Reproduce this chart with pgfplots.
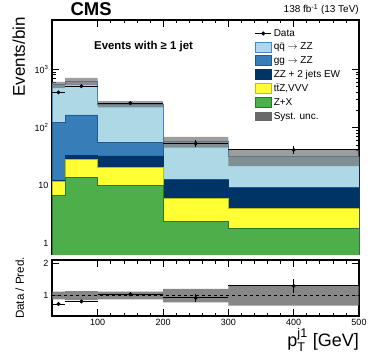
\documentclass[border=0pt]{standalone}
\usepackage{fontspec}
\setmainfont{Liberation Sans}
\usepackage{amsmath}
\usepackage{pgfplots}
\pgfplotsset{compat=1.18}

\definecolor{qqzz}{RGB}{173,216,230}
\definecolor{qqzzline}{RGB}{74,134,196}
\definecolor{ggzz}{RGB}{55,126,184}
\definecolor{ggzzline}{RGB}{30,90,150}
\definecolor{ewzz}{RGB}{0,51,102}
\definecolor{ttz}{RGB}{255,255,51}
\definecolor{ttzline}{RGB}{190,190,20}
\definecolor{zx}{RGB}{77,175,74}
\definecolor{zxline}{RGB}{40,120,40}
\definecolor{unc}{RGB}{105,105,105}

\pgfplotsset{
  rootstyle/.style={
    scale only axis, width=307pt, xmin=30, xmax=500,
    tick align=inside,
    axis line style={line width=1.1pt},
    every tick/.style={black, line width=0.7pt},
    major tick length=7pt, minor tick length=3.5pt,
    xtick={100,200,300,400,500}, minor x tick num=4,
    tick label style={font=\fontsize{9}{10}\selectfont},
    /pgf/number format/assume math mode=true,
  },
  stackarea/.style={line width=0.6pt, line join=miter},
  boxlegend/.style={legend image code/.code={\draw[##1] (0pt,-5pt) rectangle (16pt,5pt);}},
}

\begin{document}
\begin{tikzpicture}
% main panel: cumulative stack tops, drawn from largest to smallest
\begin{axis}[rootstyle, name=main, height=234pt,
  ymode=log, ymin=0.67, ymax=7000,
  ytick={1,10,100,1000}, yticklabels={1,10,10\textsuperscript{2},10\textsuperscript{3}},
  xticklabel=\empty,
  legend style={at={(0.65,0.978)}, anchor=north west, draw=none, fill=none,
    font=\fontsize{10}{12}\selectfont, row sep=1.2pt},
  legend cell align=left]
% qq -> ZZ (total)
\addplot[stackarea, fill=qqzz, draw=qqzzline, forget plot] coordinates {
 (30,0.3) (30,540) (50,540) (50,620) (100,620) (100,252) (200,252)
 (200,57) (300,57) (300,31.5) (500,31.5) (500,0.3)} -- cycle;
% gg -> ZZ
\addplot[stackarea, fill=ggzz, draw=ggzzline, forget plot] coordinates {
 (30,0.3) (30,123) (50,123) (50,164) (100,164) (100,55) (200,55)
 (200,12.9) (300,12.9) (300,9.3) (500,9.3) (500,0.3)} -- cycle;
% ZZ + 2 jets EW
\addplot[stackarea, fill=ewzz, draw=ewzz, forget plot] coordinates {
 (30,0.3) (30,12.3) (50,12.3) (50,33) (100,33) (100,32.5) (200,32.5)
 (200,12.6) (300,12.6) (300,9.1) (500,9.1) (500,0.3)} -- cycle;
% ttZ, VVV
\addplot[stackarea, fill=ttz, draw=ttzline, forget plot] coordinates {
 (30,0.3) (30,11.7) (50,11.7) (50,28.5) (100,28.5) (100,20.8) (200,20.8)
 (200,6.1) (300,6.1) (300,4.1) (500,4.1) (500,0.3)} -- cycle;
% Z+X
\addplot[stackarea, fill=zx, draw=zxline, forget plot] coordinates {
 (30,0.3) (30,6.8) (50,6.8) (50,14) (100,14) (100,10) (200,10)
 (200,2.4) (300,2.4) (300,1.83) (500,1.83) (500,0.3)} -- cycle;
% syst. band
\addplot[fill=unc, fill opacity=0.65, draw=none, forget plot] coordinates {
 (30,605) (50,605) (50,707) (100,707) (100,282) (200,282) (200,69) (300,69)
 (300,41.3) (500,41.3) (500,21.7) (300,21.7) (300,45) (200,45) (200,222)
 (100,222) (100,533) (50,533) (50,475) (30,475)} -- cycle;
% data
\addplot[black, only marks, mark=*, mark size=1.8pt, forget plot,
  error bars/.cd, x dir=both, x explicit, y dir=both, y explicit,
  error mark=none, error bar style={line width=1pt}] coordinates {
 (40,400) +- (10,20) (75,510) +- (25,23) (150,262) +- (50,16)
 (250,53) +- (50,7.5) (400,41) +- (100,6.5)};

\addlegendimage{legend image code/.code={\draw[black, line width=1pt] (0pt,0pt) -- (16pt,0pt); \fill[black] (8pt,0pt) circle (1.8pt);}}
\addlegendentry{Data}
\addlegendimage{boxlegend, fill=qqzz, draw=qqzzline, line width=1pt}
\addlegendentry{q$\bar{\text{q}}$ $\rightarrow$ ZZ}
\addlegendimage{boxlegend, fill=ggzz, draw=ggzzline, line width=1pt}
\addlegendentry{gg $\rightarrow$ ZZ}
\addlegendimage{boxlegend, fill=ewzz, draw=ewzz, line width=1pt}
\addlegendentry{ZZ + 2 jets EW}
\addlegendimage{boxlegend, fill=ttz, draw=ttzline, line width=1pt}
\addlegendentry{t$\bar{\text{t}}$Z,VVV}
\addlegendimage{boxlegend, fill=zx, draw=zxline, line width=1pt}
\addlegendentry{Z+X}
\addlegendimage{legend image code/.code={\fill[unc] (0pt,-4pt) rectangle (16pt,4pt);}}
\addlegendentry{Syst. unc.}
\end{axis}

% ratio panel
\begin{axis}[rootstyle, name=ratio, at={(main.south west)}, anchor=north west,
  yshift=-6pt, height=56pt, ymin=0.37, ymax=2.1, ytick={1,2}]
\addplot[fill=unc, fill opacity=0.8, draw=none] coordinates {
 (30,1.12) (50,1.12) (50,1.14) (100,1.14) (100,1.12) (200,1.12) (200,1.21) (300,1.21)
 (300,1.31) (500,1.31) (500,0.69) (300,0.69) (300,0.79) (200,0.79) (200,0.88)
 (100,0.88) (100,0.86) (50,0.86) (50,0.88) (30,0.88)} -- cycle;
\addplot[black, dashed, line width=0.5pt] coordinates {(30,1) (500,1)};
\addplot[black, only marks, mark=*, mark size=1.8pt,
  error bars/.cd, x dir=both, x explicit, y dir=both, y explicit,
  error mark=none, error bar style={line width=1pt}] coordinates {
 (40,0.74) +- (10,0.04) (75,0.82) +- (25,0.04) (150,1.04) +- (50,0.06)
 (250,0.93) +- (50,0.13) (400,1.30) +- (100,0.22)};
\end{axis}

\node[anchor=base west, font=\fontsize{18.5}{20}\selectfont\bfseries]
  at ([xshift=15pt, yshift=4pt]main.north west) {CMS};
\node[anchor=base east, font=\fontsize{10}{12}\selectfont, inner sep=0pt]
  at ([yshift=7pt]main.north east) {138 fb\textsuperscript{-1} (13 TeV)};
\node[anchor=base west, font=\fontsize{11.4}{13}\selectfont\bfseries, inner sep=0pt]
  at ([xshift=42pt, yshift=-30pt]main.north west) {Events with ≥ 1 jet};
\node[anchor=base east, rotate=90, font=\fontsize{17}{19}\selectfont, inner sep=0pt]
  at ([xshift=-27pt, yshift=3pt]main.north west) {Events/bin};
\node[anchor=base, rotate=90, font=\fontsize{11.6}{13}\selectfont, inner sep=0pt]
  at ([xshift=-28pt]ratio.west) {Data / Pred.};
\node[anchor=base east, font=\fontsize{18}{20}\selectfont, inner sep=0pt]
  at ([yshift=-30pt]ratio.south east) {p$_{\text{T}}^{\text{j1}}$ [GeV]};

\pgfresetboundingbox
\path[use as bounding box] ([xshift=-52pt, yshift=20pt]main.north west)
  rectangle ([xshift=322pt, yshift=-343pt]main.north west);
\end{tikzpicture}
\end{document}
